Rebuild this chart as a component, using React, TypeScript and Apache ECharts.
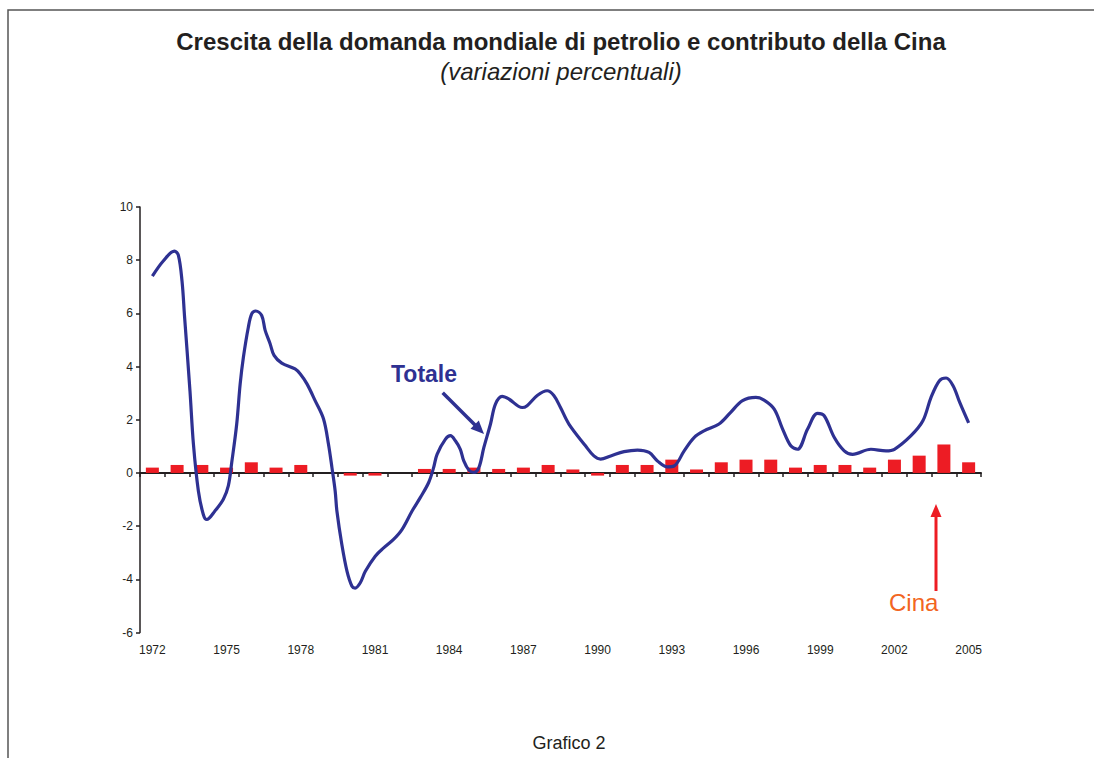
import React, { useEffect, useRef } from "react";
import * as echarts from "echarts";

const years: string[] = [];
for (let y = 1972; y <= 2005; y++) years.push(String(y));

// Contributo della Cina (bars)
const cinaValues = [
  0.2, 0.3, 0.3, 0.2, 0.4, 0.2, 0.3, 0.0, -0.1, -0.1, 0.0, 0.15, 0.15, 0.2, 0.15, 0.2, 0.3,
  0.13, -0.1, 0.3, 0.3, 0.5, 0.13, 0.4, 0.5, 0.5, 0.2, 0.3, 0.3, 0.2, 0.5, 0.65, 1.07, 0.4,
];

// Totale (smoothed line, sub-annual points)
const totaleX = [
  1972.0, 1972.44, 1972.89, 1973.05, 1973.2, 1973.3, 1973.52, 1973.66, 1973.86,
  1974.06, 1974.2, 1974.53, 1974.87, 1975.07, 1975.21, 1975.41, 1975.55, 1975.68, 1975.88,
  1976.02, 1976.18, 1976.42, 1976.56, 1976.76, 1976.92, 1977.23, 1977.77, 1977.98, 1978.25,
  1978.58, 1978.92, 1979.12, 1979.26, 1979.39, 1979.46, 1979.66, 1979.87, 1980.07, 1980.2,
  1980.4, 1980.61, 1981.01, 1981.35, 1981.75, 1982.09, 1982.5, 1982.83, 1983.17, 1983.37,
  1983.51, 1983.85, 1984.05, 1984.25, 1984.45, 1984.59, 1984.8, 1985.0, 1985.2, 1985.4,
  1985.67, 1985.87, 1986.14, 1986.41, 1986.95, 1987.15, 1987.56, 1987.96, 1988.23, 1988.5,
  1988.84, 1989.51, 1989.85, 1990.12, 1990.53, 1991.07, 1991.61, 1992.08, 1992.42, 1992.82,
  1993.09, 1993.5, 1993.9, 1994.3, 1994.91, 1995.38, 1995.86, 1996.4, 1996.73, 1997.14,
  1997.48, 1997.81, 1998.08, 1998.49, 1998.89, 1999.16, 1999.57, 1999.97, 2000.31, 2001.05,
  2001.66, 2002.0, 2002.67, 2003.15, 2003.48, 2003.82, 2004.09, 2004.37, 2004.64, 2005.0,
];
const totaleY = [
  7.4, 7.97, 8.34, 8.19, 7.2, 5.9, 3.09, 1.08, -0.68,
  -1.56, -1.75, -1.43, -0.99, -0.49, 0.4, 1.84, 3.35, 4.35, 5.48,
  5.99, 6.09, 5.92, 5.36, 4.86, 4.42, 4.13, 3.91, 3.72, 3.35,
  2.72, 2.03, 1.08, 0.2, -0.68, -1.43, -2.69, -3.7, -4.26, -4.33,
  -4.14, -3.7, -3.13, -2.82, -2.5, -2.13, -1.43, -0.93, -0.36, 0.2,
  0.7, 1.27, 1.4, 1.21, 0.89, 0.45, 0.1, 0.02, 0.2, 0.95,
  1.84, 2.59, 2.88, 2.78, 2.46, 2.53, 2.91, 3.09, 2.91, 2.46,
  1.84, 1.02, 0.64, 0.52, 0.64, 0.8, 0.86, 0.77, 0.45, 0.23,
  0.26, 0.83, 1.33, 1.58, 1.84, 2.28, 2.72, 2.84, 2.74, 2.4,
  1.65, 1.02, 0.89, 1.65, 2.24, 2.15, 1.33, 0.83, 0.7, 0.89,
  0.83, 0.89, 1.4, 1.96, 2.84, 3.47, 3.57, 3.28, 2.65, 1.88,
];

const yTicks = { min: -6, max: 10, interval: 2 };

const FONT = "'Liberation Sans', Arial, sans-serif";
const TXT = "#231F20";
const BLUE = "#2E3192";
const RED = "#ED1C24";

export default function App() {
  const ref = useRef<HTMLDivElement>(null);
  useEffect(() => {
    if (!ref.current) return;
    const chart = echarts.init(ref.current, undefined, { renderer: "svg" });
    const gridLeft = 140;
    const gridTop = 207;
    const gridWidth = 841;
    const gridHeight = 425.5;
    const option: any = {
      animation: false,
      backgroundColor: "#ffffff",
      textStyle: { fontFamily: FONT },
      title: [
        {
          text: "Crescita della domanda mondiale di petrolio e contributo della Cina",
          left: 556,
          top: 24,
          textAlign: "center",
          textStyle: { fontFamily: FONT, fontSize: 24, fontWeight: "bold", color: TXT },
        },
        {
          text: "(variazioni percentuali)",
          left: 556,
          top: 54,
          textAlign: "center",
          textStyle: { fontFamily: FONT, fontSize: 24, fontStyle: "italic", fontWeight: "normal", color: TXT },
        },
        {
          text: "Grafico 2",
          left: 569,
          top: 733,
          padding: 0,
          textAlign: "center",
          textStyle: { fontFamily: FONT, fontSize: 18, lineHeight: 20, fontWeight: "normal", color: TXT },
        },
      ],
      grid: { left: gridLeft, top: gridTop, width: gridWidth, height: gridHeight, containLabel: false },
      xAxis: [
        {
          type: "category",
          data: years,
          boundaryGap: true,
          axisLine: { onZero: true, lineStyle: { color: TXT, width: 2 } },
          axisTick: { show: true, interval: 0, length: 4, lineStyle: { color: TXT, width: 1.5 } },
          axisLabel: { show: false },
          splitLine: { show: false },
        },
        {
          type: "category",
          data: years,
          boundaryGap: true,
          position: "bottom",
          axisLine: { show: false, onZero: false },
          axisTick: { show: false },
          axisLabel: { show: true, interval: 2, margin: 11, fontSize: 12, color: TXT, fontFamily: FONT },
          splitLine: { show: false },
        },
        {
          type: "value",
          min: 1971.5,
          max: 2005.5,
          show: false,
          splitLine: { show: false },
        },
      ],
      yAxis: {
        type: "value",
        min: yTicks.min,
        max: yTicks.max,
        interval: yTicks.interval,
        axisLine: { show: true, lineStyle: { color: TXT, width: 1.5 } },
        axisTick: { show: true, length: 4, lineStyle: { color: TXT, width: 1.5 } },
        axisLabel: { fontSize: 12, color: TXT, margin: 7, fontFamily: FONT },
        splitLine: { show: false },
      },
      series: [
        {
          name: "Cina",
          type: "bar",
          xAxisIndex: 0,
          data: cinaValues,
          barWidth: 13,
          itemStyle: { color: RED },
          z: 2,
        },
        {
          name: "Totale",
          type: "line",
          xAxisIndex: 2,
          data: totaleX.map((x, i) => [x, totaleY[i]]),
          smooth: 0.35,
          showSymbol: false,
          symbol: "none",
          lineStyle: { color: BLUE, width: 3.2 },
          z: 3,
        },
      ],
      graphic: [
        {
          type: "polyline",
          shape: { points: [[8, 758], [8, 10], [1094, 10]] },
          style: { stroke: "#555555", lineWidth: 1.5, fill: "none" },
          silent: true,
        },
        {
          type: "text",
          x: 391,
          y: 362,
          style: { text: "Totale", fontFamily: FONT, fontSize: 23, fontWeight: "bold", fill: BLUE },
        },
        {
          type: "line",
          shape: { x1: 442.7, y1: 392.7, x2: 475.5, y2: 425.5 },
          style: { stroke: BLUE, lineWidth: 3.5 },
        },
        {
          type: "polygon",
          shape: { points: [[484, 434], [470.5, 428.8], [478.8, 420.5]] },
          style: { fill: BLUE },
        },
        {
          type: "text",
          x: 889,
          y: 590,
          style: { text: "Cina", fontFamily: FONT, fontSize: 24, fill: "#F26522" },
        },
        {
          type: "line",
          shape: { x1: 936, y1: 591, x2: 936, y2: 514 },
          style: { stroke: RED, lineWidth: 3 },
        },
        {
          type: "polygon",
          shape: { points: [[936, 504], [930.5, 517], [941.5, 517]] },
          style: { fill: RED },
        },
      ],
    };
    chart.setOption(option);
    return () => chart.dispose();
  }, []);
  return (
    <div
      ref={ref}
      style={{ position: "fixed", left: 0, top: 0, width: 1094, height: 758, background: "#fff" }}
    />
  );
}
